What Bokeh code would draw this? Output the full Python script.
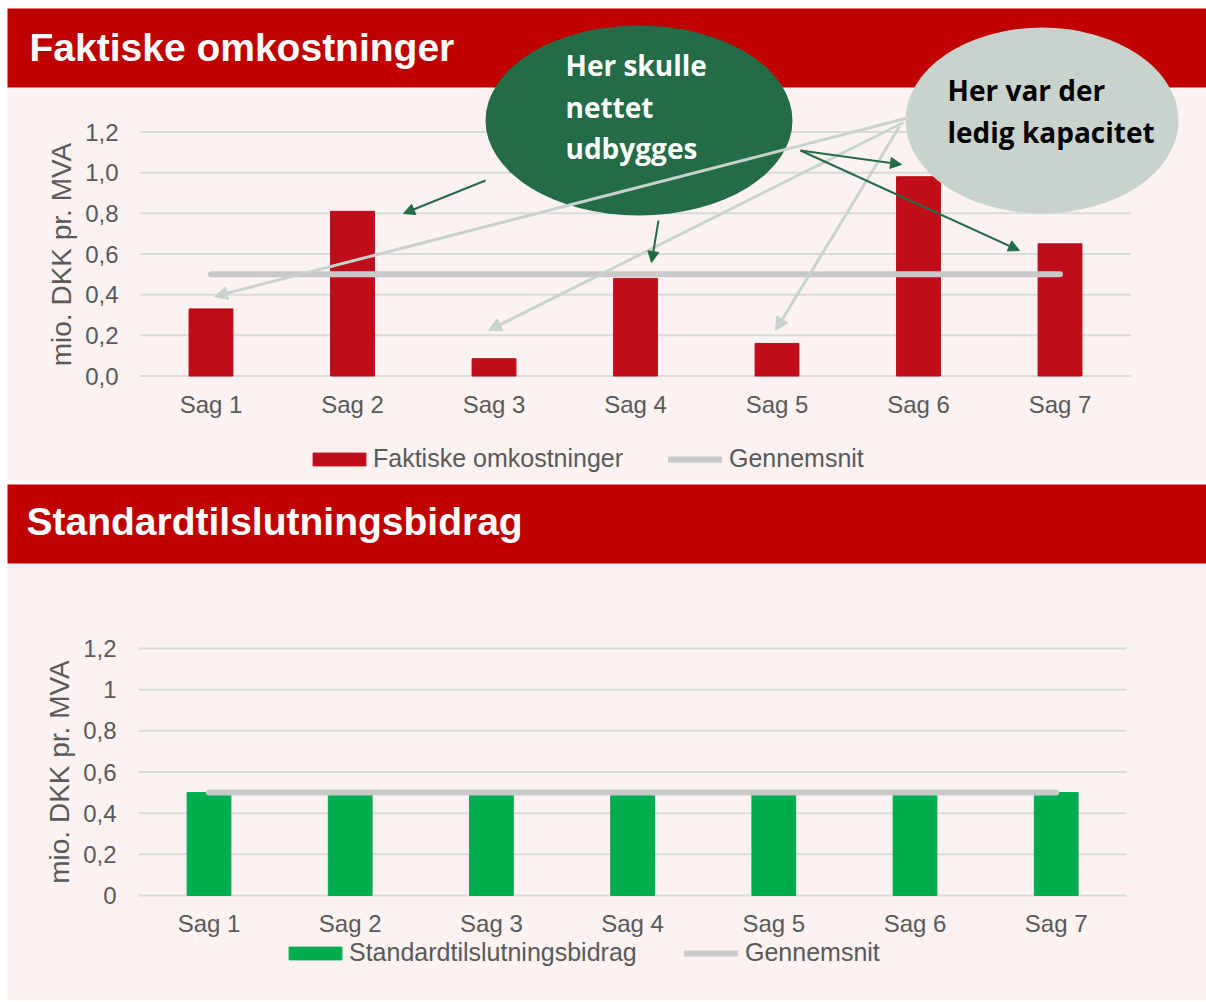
from bokeh.plotting import figure
from bokeh.models import (Range1d, LinearAxis, FixedTicker, Legend, LegendItem,
                          Arrow, NormalHead)
from bokeh.core.properties import value
from bokeh.embed import file_html
from bokeh.resources import INLINE

# ---------------- data ----------------
sager = ["Sag 1", "Sag 2", "Sag 3", "Sag 4", "Sag 5", "Sag 6", "Sag 7"]
faktiske = [0.33, 0.81, 0.085, 0.48, 0.16, 0.98, 0.65]
gennemsnit_faktiske = [0.50, 0.50, 0.50, 0.50, 0.50, 0.50, 0.50]
standard = [0.50, 0.50, 0.50, 0.50, 0.50, 0.50, 0.50]
gennemsnit_standard = [0.50, 0.50, 0.50, 0.50, 0.50, 0.50, 0.50]
y_ticks = [0, 0.2, 0.4, 0.6, 0.8, 1.0, 1.2]
y_labels_top = ["0,0", "0,2", "0,4", "0,6", "0,8", "1,0", "1,2"]
y_labels_bottom = ["0", "0,2", "0,4", "0,6", "0,8", "1", "1,2"]
title_top = "Faktiske omkostninger"
title_bottom = "Standardtilslutningsbidrag"
y_axis_label = "mio. DKK pr. MVA"
legend_bar_top = "Faktiske omkostninger"
legend_bar_bottom = "Standardtilslutningsbidrag"
legend_avg = "Gennemsnit"
bubble_green = ["Her skulle", "nettet", "udbygges"]
bubble_gray = ["Her var der", "ledig kapacitet"]

positions = list(range(1, len(sager) + 1))

# ---------------- style ----------------
PINK = "#FCF2F2"
HEADER_RED = "#C00000"
BAR_RED = "#C00D1A"
BAR_GREEN = "#00AD4E"
AVG_GRAY = "#C9C9C9"
GRID = "#D9DBDA"
TXT = "#595959"
DARK_GREEN = "#246B47"
LIGHT = "#C9D3CD"
FONT = "Liberation Sans"
W, H = 1206, 1000

# page-pixel anchors of the two chart areas
TOP = dict(x_first=210.5, x_step=141.5, y_zero=375.5, y_top=131.5, left=140)
BOT = dict(x_first=208.5, x_step=141.2, y_zero=895.0, y_top=648.0, left=138)


def x_range_for(a):
    return Range1d(1 - a["x_first"] / a["x_step"], 1 + (W - a["x_first"]) / a["x_step"])


def y_range_for(a):
    ppu = (a["y_zero"] - a["y_top"]) / 1.2
    return Range1d((a["y_zero"] - H) / ppu, a["y_zero"] / ppu)


p = figure(width=W, height=H, x_range=x_range_for(TOP), y_range=y_range_for(TOP),
           x_axis_type=None, y_axis_type=None, min_border=0, title=None,
           toolbar_location=None, output_backend="svg", outline_line_color=None,
           background_fill_color="white", border_fill_color="white")
p.extra_x_ranges = {"px": Range1d(0, W), "xb": x_range_for(BOT)}
p.extra_y_ranges = {"py": Range1d(H, 0), "yb": y_range_for(BOT)}
PX = dict(x_range_name="px", y_range_name="py")
BOTR = dict(x_range_name="xb", y_range_name="yb")

# panel backgrounds and header bands (page pixels)
p.quad(left=[7, 7], right=[W, W], top=[8, 484], bottom=[479, 1000],
       fill_color=PINK, line_color=None, **PX)
p.quad(left=[7, 7], right=[W, W], top=[8, 484], bottom=[87, 563],
       fill_color=HEADER_RED, line_color=None, **PX)
p.text(x=[29, 26], y=[47, 521], text=[title_top, title_bottom],
       text_font=value(FONT), text_font_size="39px", text_font_style="bold",
       text_color="white", text_baseline="alphabetic", **PX)

edge_lo, edge_hi = positions[0] - 0.5, positions[-1] + 0.5

# ---------------- top chart ----------------
p.segment(x0=[edge_lo] * len(y_ticks), x1=[edge_hi] * len(y_ticks), y0=y_ticks, y1=y_ticks,
          line_color=GRID, line_width=2)
bars1 = p.vbar(x=positions, top=faktiske, width=0.31, color=BAR_RED)
avg1 = p.line(x=positions, y=gennemsnit_faktiske, line_width=6, line_color=AVG_GRAY,
              line_cap="round")

# ---------------- bottom chart ----------------
p.segment(x0=[edge_lo] * len(y_ticks), x1=[edge_hi] * len(y_ticks), y0=y_ticks, y1=y_ticks,
          line_color=GRID, line_width=2, **BOTR)
bars2 = p.vbar(x=positions, top=standard, width=0.31, color=BAR_GREEN, **BOTR)
avg2 = p.line(x=positions, y=gennemsnit_standard, line_width=6, line_color=AVG_GRAY,
              line_cap="round", **BOTR)

# ---------------- speech bubbles ----------------
p.ellipse(x=[638.5], y=[120], width=[307], height=[190], fill_color=DARK_GREEN,
          line_color=None, **PX)
p.ellipse(x=[1041.5], y=[120], width=[273], height=[186], fill_color=LIGHT,
          line_color=None, **PX)
p.text(x=[565] * 3, y=[64, 106, 147], text=bubble_green, text_font=value("Open Sans"),
       text_font_size="28px", text_font_style="bold", text_color="white",
       text_baseline="alphabetic", **PX)
p.text(x=[947] * 2, y=[89, 131], text=bubble_gray, text_font=value("Open Sans"),
       text_font_size="28px", text_font_style="bold", text_color="black",
       text_baseline="alphabetic", **PX)

gray_arrows = [((905, 118), (214, 296)), ((903, 122), (488, 330)), ((899, 126), (775, 330))]
green_arrows = [((485, 180), (403, 213)), ((658, 220), (651, 262)),
                ((800, 150), (901, 164)), ((800, 150), (1019, 250))]
for (x0, y0), (x1, y1) in gray_arrows:
    p.add_layout(Arrow(x_start=x0, y_start=y0, x_end=x1, y_end=y1, line_color=LIGHT,
                       line_width=3, end=NormalHead(size=13, fill_color=LIGHT, line_color=LIGHT),
                       **PX))
for (x0, y0), (x1, y1) in green_arrows:
    p.add_layout(Arrow(x_start=x0, y_start=y0, x_end=x1, y_end=y1, line_color=DARK_GREEN,
                       line_width=2,
                       end=NormalHead(size=11, fill_color=DARK_GREEN, line_color=DARK_GREEN),
                       **PX))


# ---------------- axes ----------------
def style_y(ax, labels):
    ax.ticker = FixedTicker(ticks=y_ticks)
    ax.major_label_overrides = dict(zip(y_ticks, labels))
    ax.bounds = (0, 1.2)
    ax.axis_line_color = None
    ax.major_tick_line_color = None
    ax.minor_tick_line_color = None
    ax.major_label_standoff = 16
    ax.major_label_text_font = FONT
    ax.major_label_text_font_size = "24px"
    ax.major_label_text_color = TXT
    ax.axis_label = y_axis_label
    ax.axis_label_text_font = FONT
    ax.axis_label_text_font_size = "28px"
    ax.axis_label_text_font_style = "normal"
    ax.axis_label_text_color = TXT
    ax.axis_label_standoff = 5


def style_x(ax, standoff):
    ax.ticker = FixedTicker(ticks=positions)
    ax.major_label_overrides = dict(zip(positions, sager))
    ax.bounds = (edge_lo, edge_hi)
    ax.axis_line_color = None
    ax.major_tick_line_color = None
    ax.minor_tick_line_color = None
    ax.major_label_standoff = standoff
    ax.major_label_text_font = FONT
    ax.major_label_text_font_size = "24px"
    ax.major_label_text_color = TXT


ya1 = LinearAxis(x_range_name="px", fixed_location=TOP["left"])
style_y(ya1, y_labels_top)
p.add_layout(ya1, "left")
ya2 = LinearAxis(x_range_name="px", y_range_name="yb", fixed_location=BOT["left"])
style_y(ya2, y_labels_bottom)
p.add_layout(ya2, "left")
xa1 = LinearAxis(y_range_name="py", fixed_location=TOP["y_zero"])
style_x(xa1, 9)
p.add_layout(xa1, "below")
xa2 = LinearAxis(x_range_name="xb", y_range_name="py", fixed_location=BOT["y_zero"])
style_x(xa2, 8)
p.add_layout(xa2, "below")


# ---------------- legends ----------------
def add_legend(r, lab, x, y_bottom_px, gw, gh, standoff):
    leg = Legend(items=[LegendItem(label=lab, renderers=[r])], location=(x, H - y_bottom_px),
                 orientation="horizontal", glyph_width=gw, glyph_height=gh,
                 label_height=gh, label_standoff=standoff, padding=0, margin=0, spacing=0,
                 border_line_color=None, background_fill_alpha=0,
                 label_text_font=FONT, label_text_font_size="25px", label_text_color=TXT)
    p.add_layout(leg)


add_legend(bars1, legend_bar_top, 306, 473, 66, 16, 1)
add_legend(avg1, legend_avg, 668, 473, 54, 16, 7)
add_legend(bars2, legend_bar_bottom, 282, 967, 66, 16, 1)
add_legend(avg2, legend_avg, 684, 967, 54, 16, 7)

open("out.html", "w").write(file_html(p, INLINE))
